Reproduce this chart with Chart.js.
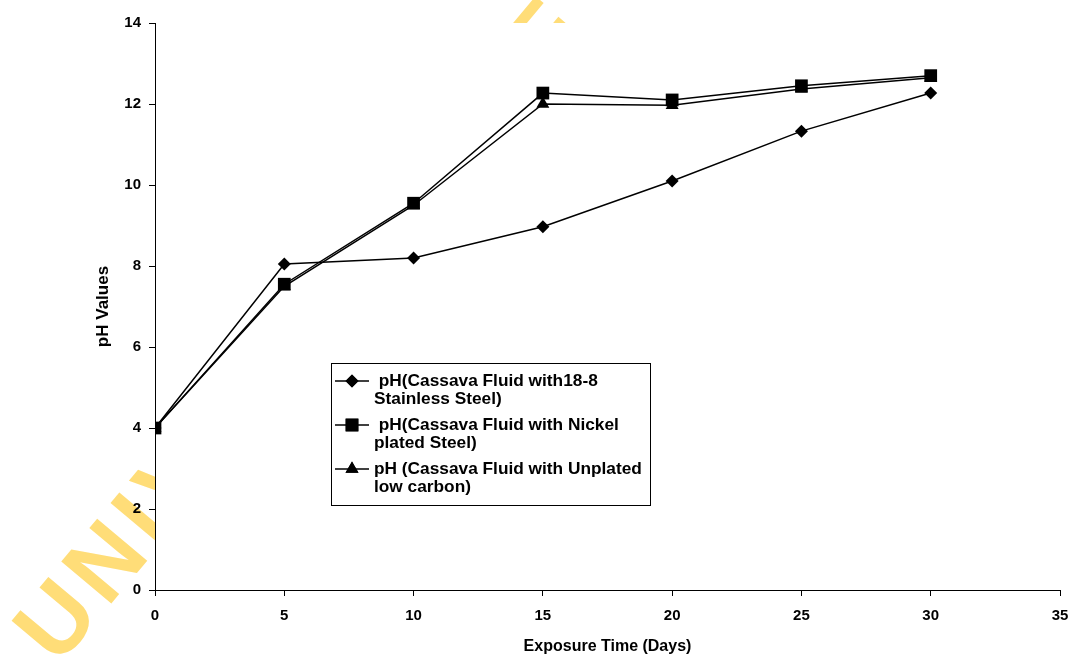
<!DOCTYPE html>
<html>
<head>
<meta charset="utf-8">
<script src="https://cdn.jsdelivr.net/npm/chart.js@4.4.1/dist/chart.umd.min.js"></script>
<style>
  html, body { margin: 0; padding: 0; background: #fff; }
  #wrap { width: 1072px; height: 656px; }
</style>
</head>
<body>
<div id="wrap"><canvas id="grafico"></canvas></div>
<script>
// exposure time in days
var dias = [0, 5, 10, 15, 20, 25, 30];
var phInox = [4.0, 8.05, 8.2, 8.97, 10.1, 11.33, 12.27];
var phNiquel = [4.0, 7.55, 9.55, 12.27, 12.1, 12.45, 12.7];
var phSemPlaca = [4.0, 7.5, 9.5, 12.0, 11.97, 12.37, 12.65];
var legendas = [
    [' pH(Cassava Fluid with18-8', 'Stainless Steel)'],
    [' pH(Cassava Fluid with Nickel', 'plated Steel)'],
    ['pH (Cassava Fluid with Unplated', 'low carbon)']
];
var xTicks = [0, 5, 10, 15, 20, 25, 30, 35];
var yTicks = [0, 2, 4, 6, 8, 10, 12, 14];

var fonte = '"Liberation Sans", Arial';

function pontos(valores) {
    return dias.map((d, i) => ({x: d, y: valores[i]}));
}

// yellow watermark behind the plot, hidden by the white plot area
var marcaDagua = {
    id: 'marcaDagua',
    beforeDraw: function (chart) {
        var ctx = chart.ctx;
        var a = chart.chartArea;
        ctx.save();
        ctx.fillStyle = '#fff';
        ctx.fillRect(0, 0, chart.width, chart.height);
        ctx.translate(58, 667);
        ctx.rotate(-50 * Math.PI / 180);
        ctx.fillStyle = 'rgb(255,221,120)';
        ctx.font = 'bold 95px ' + fonte;
        if ('letterSpacing' in ctx) ctx.letterSpacing = '8px';
        ctx.textBaseline = 'alphabetic';
        ctx.fillText('UNIVERSITY OF CAPE COAST', 0, 0);
        ctx.restore();
        ctx.save();
        ctx.fillStyle = '#fff';
        ctx.fillRect(a.left, a.top, a.right - a.left, a.bottom - a.top);
        ctx.restore();
    }
};

// boxed legend inside the plot, like the original
var legendaCaixa = {
    id: 'legendaCaixa',
    afterDraw: function (chart) {
        var ctx = chart.ctx;
        var x = 331, y = 363, w = 319, h = 142;
        ctx.save();
        ctx.fillStyle = '#fff';
        ctx.fillRect(x, y, w, h);
        ctx.strokeStyle = '#000';
        ctx.lineWidth = 1;
        ctx.strokeRect(x + 0.5, y + 0.5, w, h);
        ctx.font = 'bold 17.3px ' + fonte;
        ctx.textBaseline = 'middle';
        ctx.fillStyle = '#000';
        chart.data.datasets.forEach((ds, i) => {
            var ly = y + 18 + i * 44;
            ctx.beginPath();
            ctx.moveTo(x + 4, ly);
            ctx.lineTo(x + 38, ly);
            ctx.lineWidth = 1.5;
            ctx.stroke();
            Chart.helpers.drawPoint(ctx, {pointStyle: ds.pointStyle, radius: ds.pointRadius, rotation: 0}, x + 21, ly);
            ctx.fill();
            legendas[i].forEach((linha, j) => {
                ctx.fillText(linha, x + 43, ly + j * 18);
            });
        });
        ctx.restore();
    }
};

new Chart(document.getElementById('grafico'), {
    type: 'line',
    data: {
        datasets: [{
            label: legendas[0].join(' '),
            data: pontos(phInox),
            pointStyle: 'rectRot',
            pointRadius: 6.5
        }, {
            label: legendas[1].join(' '),
            data: pontos(phNiquel),
            pointStyle: 'rect',
            pointRadius: 9
        }, {
            label: legendas[2].join(' '),
            data: pontos(phSemPlaca),
            pointStyle: 'triangle',
            pointRadius: 7.5
        }].map(ds => Object.assign(ds, {
            borderColor: '#000',
            backgroundColor: '#000',
            borderWidth: 1.5,
            pointBorderWidth: 0,
            pointBackgroundColor: '#000',
            fill: false,
            tension: 0
        }))
    },
    options: {
        responsive: true,
        maintainAspectRatio: false,
        animation: false,
        layout: {padding: {left: 0, top: 23, right: 12, bottom: 0}},
        plugins: {
            legend: {display: false},
            tooltip: {enabled: false}
        },
        scales: {
            x: {
                type: 'linear',
                min: 0,
                max: 35,
                afterBuildTicks: function (axis) {
                    axis.ticks = xTicks.map(v => ({value: v}));
                },
                afterFit: function (axis) {
                    axis.height = 66;
                    axis.paddingLeft = 0;
                    axis.paddingRight = 0;
                },
                border: {display: true, color: '#000', width: 1},
                grid: {display: true, drawOnChartArea: false, drawTicks: true, tickLength: 6, color: '#000'},
                ticks: {color: '#000', padding: 11, maxRotation: 0, font: {family: fonte, size: 15, weight: 'bold'}},
                title: {
                    display: true,
                    text: 'Exposure Time (Days)',
                    color: '#000',
                    padding: {top: 0, bottom: 0},
                    font: {family: fonte, size: 16, weight: 'bold'}
                }
            },
            y: {
                min: 0,
                max: 14,
                afterBuildTicks: function (axis) {
                    axis.ticks = yTicks.map(v => ({value: v}));
                },
                afterFit: function (axis) { axis.width = 155; },
                border: {display: true, color: '#000', width: 1},
                grid: {display: true, drawOnChartArea: false, drawTicks: true, tickLength: 6, color: '#000'},
                ticks: {color: '#000', padding: 8, font: {family: fonte, size: 15, weight: 'bold'}},
                title: {
                    display: true,
                    text: 'pH Values',
                    color: '#000',
                    padding: {top: 93, bottom: 0},
                    font: {family: fonte, size: 17, weight: 'bold'}
                }
            }
        }
    },
    plugins: [marcaDagua, legendaCaixa]
});
</script>
</body>
</html>
